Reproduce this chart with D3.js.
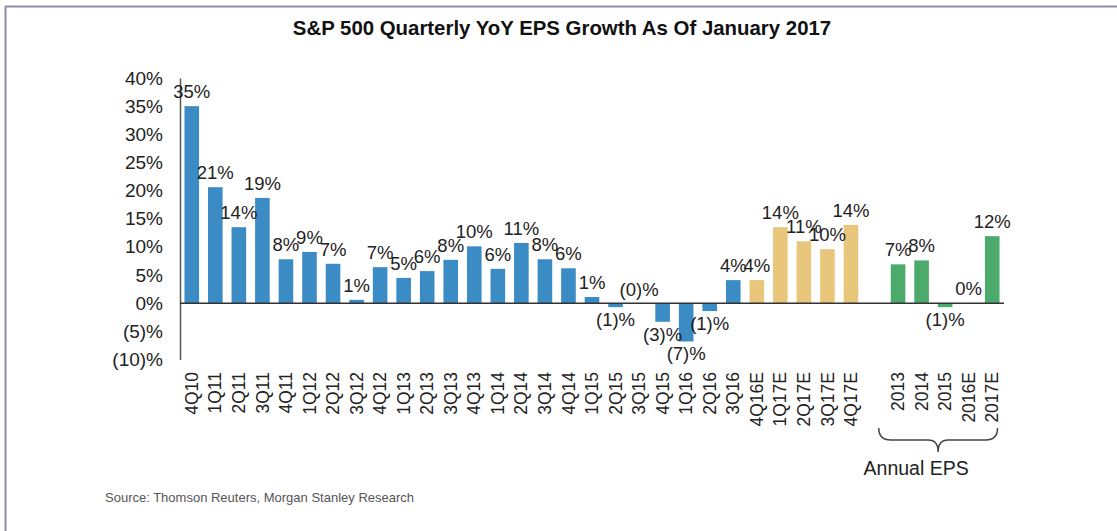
<!DOCTYPE html>
<html>
<head>
<meta charset="utf-8">
<script src="https://cdn.jsdelivr.net/npm/d3@7"></script>
<style>
    body { margin: 0; background: #fff; }
    text { font-family: "Liberation Sans", Arial, sans-serif; }
</style>
</head>
<body>
<div id="chart"></div>
<script>
var svgWidth = 1117;
var svgHeight = 531;

// quarterly actuals
var actualQuarters = ["4Q10", "1Q11", "2Q11", "3Q11", "4Q11", "1Q12", "2Q12", "3Q12", "4Q12",
    "1Q13", "2Q13", "3Q13", "4Q13", "1Q14", "2Q14", "3Q14", "4Q14",
    "1Q15", "2Q15", "3Q15", "4Q15", "1Q16", "2Q16", "3Q16"];
var actualValues = [35.0, 20.6, 13.5, 18.7, 7.8, 9.1, 7.0, 0.6, 6.4,
    4.5, 5.7, 7.7, 10.1, 6.1, 10.7, 7.8, 6.2,
    1.1, -0.7, -0.1, -3.3, -6.8, -1.4, 4.1];
var actualLabels = ["35%", "21%", "14%", "19%", "8%", "9%", "7%", "1%", "7%",
    "5%", "6%", "8%", "10%", "6%", "11%", "8%", "6%",
    "1%", "(1)%", "(0)%", "(3)%", "(7)%", "(1)%", "4%"];

// quarterly estimates
var estQuarters = ["4Q16E", "1Q17E", "2Q17E", "3Q17E", "4Q17E"];
var estValues = [4.1, 13.5, 11.0, 9.6, 13.9];
var estLabels = ["4%", "14%", "11%", "10%", "14%"];

// annual EPS
var annualYears = ["2013", "2014", "2015", "2016E", "2017E"];
var annualValues = [6.9, 7.6, -0.7, 0.0, 11.9];
var annualLabels = ["7%", "8%", "(1)%", "0%", "12%"];

var yTicks = [-10, -5, 0, 5, 10, 15, 20, 25, 30, 35, 40];

var colors = { actual: "#3b8bc5", est: "#e8c67c", annual: "#4cab6a" };

function makeRows(names, values, labels, kind) {
    return names.map(function (n, i) {
        return { name: n, value: values[i], label: labels[i], kind: kind };
    });
}

var rows = makeRows(actualQuarters, actualValues, actualLabels, "actual")
    .concat(makeRows(estQuarters, estValues, estLabels, "est"))
    .concat(makeRows(annualYears, annualValues, annualLabels, "annual"));

var domain = actualQuarters.concat(estQuarters, ["gap"], annualYears);

var svg = d3.select("#chart")
    .append("svg")
    .attr("width", svgWidth)
    .attr("height", svgHeight);

// frame
svg.append("line")
    .attr("x1", 5).attr("x2", svgWidth).attr("y1", 6.5).attr("y2", 6.5)
    .attr("stroke", "#8a90a8").attr("stroke-width", 2);
svg.append("line")
    .attr("x1", 5.5).attr("x2", 5.5).attr("y1", 6).attr("y2", svgHeight)
    .attr("stroke", "#8a90a8").attr("stroke-width", 2);

svg.append("text")
    .attr("x", 562)
    .attr("y", 35)
    .attr("text-anchor", "middle")
    .attr("font-size", "20.4px")
    .attr("font-weight", "bold")
    .attr("fill", "#111")
    .text("S&P 500 Quarterly YoY EPS Growth As Of January 2017");

var x = d3.scaleBand()
    .domain(domain)
    .range([180, 1004])
    .paddingInner(0.38)
    .paddingOuter(0.19);

var y = d3.scaleLinear()
    .domain([-10, 40])
    .range([359.5, 78]);

function pct(v) {
    return v < 0 ? "(" + (-v) + ")%" : v + "%";
}

var yAxis = svg.append("g")
    .attr("transform", "translate(180,0)")
    .call(d3.axisLeft(y).tickValues(yTicks).tickSize(0).tickPadding(17).tickFormat(pct));
yAxis.select(".domain").attr("stroke", "#555").attr("stroke-width", 1.5);
yAxis.selectAll("text")
    .attr("font-size", "19px")
    .attr("fill", "#222")
    .attr("font-family", "'Liberation Sans', Arial, sans-serif");

svg.selectAll("rect.bar")
    .data(rows)
    .enter()
    .append("rect")
    .attr("class", "bar")
    .attr("x", d => x(d.name))
    .attr("width", x.bandwidth())
    .attr("y", d => y(Math.max(0, d.value)))
    .attr("height", d => Math.abs(y(d.value) - y(0)))
    .attr("fill", d => colors[d.kind]);

// zero line
svg.append("line")
    .attr("x1", 180).attr("x2", 1004)
    .attr("y1", y(0)).attr("y2", y(0))
    .attr("stroke", "#333").attr("stroke-width", 1.5);

// value labels
svg.selectAll("text.val")
    .data(rows)
    .enter()
    .append("text")
    .attr("class", "val")
    .attr("x", d => x(d.name) + x.bandwidth() / 2)
    .attr("y", d => d.value >= -0.3 ? y(d.value) - 8 : y(d.value) + 19)
    .attr("text-anchor", "middle")
    .attr("font-size", "18.5px")
    .attr("fill", "#222")
    .text(d => d.label);

// category labels
svg.selectAll("text.cat")
    .data(rows)
    .enter()
    .append("text")
    .attr("class", "cat")
    .attr("transform", d => `translate(${x(d.name) + x.bandwidth() / 2}, 372) rotate(-90)`)
    .attr("dy", "0.35em")
    .attr("text-anchor", "end")
    .attr("font-size", "17.5px")
    .attr("fill", "#222")
    .text(d => d.name);

// brace under annual group
var bl = x(annualYears[0]) - 12;
var br = x(annualYears[annualYears.length - 1]) + x.bandwidth() - 2;
var bm = (bl + br) / 2;
var braceTop = 428, braceMid = 440, braceTip = 452;
svg.append("path")
    .attr("d", `M${bl},${braceTop} Q${bl},${braceMid} ${bl + 12},${braceMid} L${bm - 10},${braceMid}` +
        ` Q${bm},${braceMid} ${bm},${braceTip} Q${bm},${braceMid} ${bm + 10},${braceMid}` +
        ` L${br - 12},${braceMid} Q${br},${braceMid} ${br},${braceTop}`)
    .attr("fill", "none")
    .attr("stroke", "#444")
    .attr("stroke-width", 1.5);

svg.append("text")
    .attr("x", bm - 22)
    .attr("y", 475)
    .attr("text-anchor", "middle")
    .attr("font-size", "19.5px")
    .attr("fill", "#222")
    .text("Annual EPS");

svg.append("text")
    .attr("x", 105)
    .attr("y", 502)
    .attr("font-size", "13px")
    .attr("fill", "#555")
    .text("Source: Thomson Reuters, Morgan Stanley Research");
</script>
</body>
</html>
